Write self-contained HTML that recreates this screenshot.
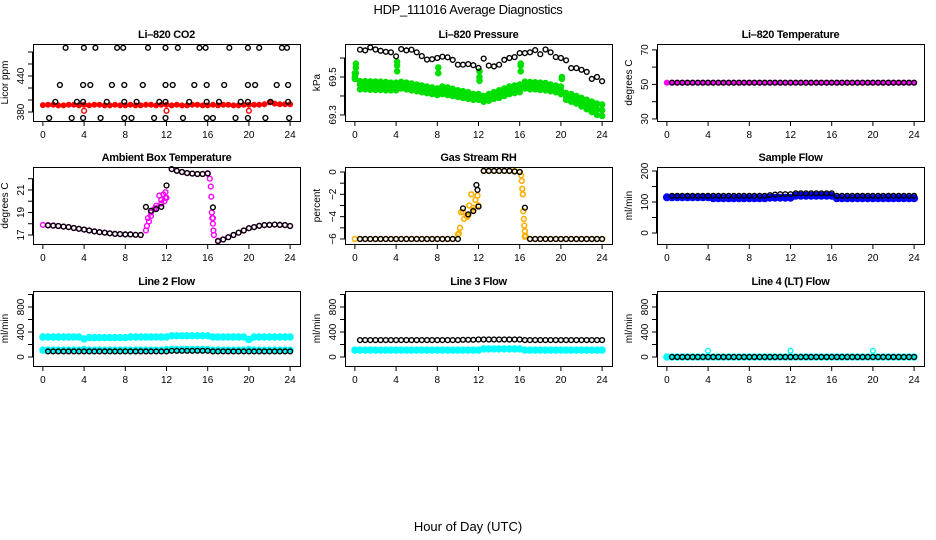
<!DOCTYPE html>
<html><head><meta charset="utf-8"><title>HDP_111016 Average Diagnostics</title>
<style>
html,body{margin:0;padding:0;background:#fff;}
svg{display:block;font-family:"Liberation Sans",sans-serif;}
.pt{font-size:11px;font-weight:bold;text-anchor:middle;letter-spacing:-0.3px;}
.tk{font-size:10px;}
</style></head><body>
<svg id="chart" width="936" height="540" viewBox="0 0 936 540" xmlns="http://www.w3.org/2000/svg">
<text x="468" y="14" text-anchor="middle" font-size="13" letter-spacing="-0.3">HDP_111016  Average Diagnostics</text>
<text x="468" y="531" text-anchor="middle" font-size="13">Hour of Day (UTC)</text>
</svg>
<script>
// ---- shared categories ----
const hoursA = [0,0.5,1,1.5,2,2.5,3,3.5,4,4.5,5,5.5,6,6.5,7,7.5,8,8.5,9,9.5,10,10.5,11,11.5,12,12.5,13,13.5,14,14.5,15,15.5,16,16.5,17,17.5,18,18.5,19,19.5,20,20.5,21,21.5,22,22.5,23,23.5,24];
const hoursB = [0.5,1,1.5,2,2.5,3,3.5,4,4.5,5,5.5,6,6.5,7,7.5,8,8.5,9,9.5,10,10.5,11,11.5,12,12.5,13,13.5,14,14.5,15,15.5,16,16.5,17,17.5,18,18.5,19,19.5,20,20.5,21,21.5,22,22.5,23,23.5,24];
const xTicks = [0,4,8,12,16,20,24];

// ---- CO2 ----
const co2Red = [391.5,
 392,392,391,391,392,392,391,392,
 391,392,392,391,391,392,391,391,
 392,391,391,392,392,391,392,392,
 391,392,391,391,392,392,391,391,
 392,391,392,392,391,391,392,392,
 392,392,393,396,394,393,393,393];
const co2RedOutHours = [4,12,20];
const co2RedOutVals = [382,382,382];
const co2BlackHours = [2.2,3.98,5.1,7.2,7.8,10.2,11.9,13.1,15.2,15.8,18.1,19.9,21.0,23.2,23.7,
 1.65,3.9,4.6,6.7,7.9,9.7,11.9,12.6,14.7,15.9,17.6,19.9,20.6,22.7,23.8,
 1.2,3.3,3.9,6.2,7.9,9.1,11.3,11.9,14.2,15.9,17.1,19.2,19.9,22.1,23.8,
 0.6,2.8,3.9,5.6,7.9,8.6,10.8,11.9,13.6,15.9,16.5,18.7,19.9,21.6,23.9];
const co2BlackVals = [487,487,487,487,487,487,487,487,487,487,487,487,487,487,487,
 425,425,425,425,425,425,425,425,425,425,425,425,425,425,425,
 397,397,397,397,397,397,397,397,397,397,397,397,397,397,397,
 370,370,370,370,370,370,370,370,370,370,370,370,370,370,370];

// ---- Pressure ----
const presBlack = [69.644,69.64,69.656,69.645,69.638,69.633,69.63,69.609,
 69.647,69.64,69.644,69.63,69.61,69.592,69.594,69.6,
 69.607,69.604,69.59,69.565,69.565,69.568,69.562,69.548,
 69.597,69.56,69.556,69.565,69.59,69.6,69.605,69.626,
 69.626,69.63,69.642,69.62,69.645,69.63,69.605,69.6,
 69.588,69.547,69.547,69.538,69.527,69.49,69.5,69.478];
const presGreenUpper = [69.52,
 69.478,69.478,69.477,69.476,69.475,69.473,69.47,69.47,
 69.474,69.47,69.465,69.46,69.455,69.45,69.445,69.44,
 69.45,69.445,69.438,69.43,69.425,69.42,69.41,69.41,
 69.40,69.41,69.42,69.43,69.44,69.45,69.455,69.46,
 69.475,69.473,69.472,69.47,69.468,69.46,69.455,69.45,
 69.415,69.41,69.40,69.39,69.38,69.37,69.36,69.355];
const presGreenMid = [69.49,
 69.46,69.458,69.456,69.455,69.455,69.452,69.45,69.45,
 69.456,69.452,69.447,69.442,69.437,69.432,69.427,69.422,
 69.43,69.425,69.42,69.412,69.407,69.402,69.395,69.395,
 69.385,69.392,69.402,69.41,69.42,69.43,69.435,69.44,
 69.457,69.454,69.453,69.451,69.449,69.443,69.437,69.43,
 69.398,69.39,69.38,69.368,69.355,69.343,69.33,69.325];
const presGreenLower = [69.5,
 69.435,69.435,69.433,69.432,69.432,69.43,69.43,69.43,
 69.44,69.435,69.43,69.425,69.42,69.415,69.41,69.405,
 69.41,69.405,69.40,69.395,69.39,69.385,69.38,69.38,
 69.37,69.375,69.385,69.39,69.40,69.41,69.415,69.42,
 69.44,69.435,69.435,69.432,69.43,69.425,69.42,69.41,
 69.38,69.37,69.36,69.345,69.33,69.315,69.30,69.295];
const presSpikeHours = [0.1,0.1,0.1,4.1,4.1,4.1,8.1,8.1,12.1,12.1,12.1,16.1,16.1,16.1,20.1,20.1];
const presSpikeVals = [69.57,69.55,69.52,69.58,69.56,69.53,69.55,69.52,69.53,69.5,69.48,69.57,69.56,69.53,69.50,69.49];

// ---- Li-820 Temperature ----
const tempMagenta = [51,
 51,51,51,51,51,51,51,51, 51,51,51,51,51,51,51,51, 51,51,51,51,51,51,51,51,
 51,51,51,51,51,51,51,51, 51,51,51,51,51,51,51,51, 51,51,51,51,51,51,51,51];
const tempBlack = [51,51,51,51,51,51,51,51, 51,51,51,51,51,51,51,51, 51,51,51,51,51,51,51,51,
 51,51,51,51,51,51,51,51, 51,51,51,51,51,51,51,51, 51,51,51,51,51,51,51,51];

// ---- Ambient Box Temperature ----
const ambMagenta = [17.9,
 17.88,17.85,17.8,17.75,17.7,17.62,17.55,17.48,
 17.4,17.33,17.26,17.2,17.15,17.1,17.08,17.05,
 17.05,17.02,17.0,17.4,19.0,19.4,19.8,20.3,
 22.85,22.7,22.6,22.5,22.45,22.42,22.42,22.5,
 18.5,16.5,16.6,16.8,17.0,17.2,17.4,17.6,
 17.7,17.82,17.88,17.9,17.92,17.9,17.88,17.8];
const ambMagentaExtraHours = [10.1,10.2,10.3,10.5,10.8,11.0,11.3,11.5,11.7,11.8,11.9,11.9,16.2,16.3,16.35,16.4,16.45,16.5,16.55,16.6];
const ambMagentaExtraVals = [17.8,18.5,18.2,18.7,19.3,19.6,20.5,20.1,20.6,20.0,20.3,20.8,22.0,21.3,20.4,19.0,18.5,18.0,17.4,17.0];
const ambBlack = [17.85,17.83,17.8,17.75,17.7,17.62,17.55,17.48,
 17.4,17.32,17.25,17.2,17.15,17.1,17.08,17.05,
 17.05,17.02,17.0,19.5,19.15,19.3,19.5,21.4,
 22.85,22.7,22.6,22.5,22.45,22.42,22.42,22.45,
 19.45,16.45,16.6,16.8,17.0,17.2,17.4,17.6,
 17.7,17.82,17.88,17.9,17.92,17.9,17.88,17.8];

// ---- Gas Stream RH ----
const rhOrange = [-6,
 -6,-6,-6,-6,-6,-6,-6,-6, -6,-6,-6,-6,-6,-6,-6,-6,
 -6,-6,-6,-5.6,-3.6,-3.9,-3.4,-3.0,
 0.1,0.1,0.1,0.1,0.1,0.1,0.1,0,
 -5.8,-6,-6,-6,-6,-6,-6,-6, -6,-6,-6,-6,-6,-6,-6,-6];
const rhOrangeExtraHours = [10.1,10.2,10.3,10.6,10.9,11.1,11.3,11.5,11.7,11.9,16.15,16.2,16.25,16.3,16.35,16.4,16.45,16.5,16.55];
const rhOrangeExtraVals = [-5.5,-5.0,-3.6,-4.2,-4.0,-3.0,-2.0,-3.2,-2.5,-2.1,-0.3,-0.8,-1.5,-2.0,-3.5,-4.2,-4.8,-5.3,-5.7];
const rhBlack = [-6,-6,-6,-6,-6,-6,-6,-6, -6,-6,-6,-6,-6,-6,-6,-6,
 -6,-6,-6,-6,-3.25,-3.8,-3.5,-3.1,
 0.1,0.1,0.1,0.1,0.1,0.1,0.05,0,
 -3.2,-6,-6,-6,-6,-6,-6,-6, -6,-6,-6,-6,-6,-6,-6,-6];
const rhBlackExtraHours = [11.8,11.9];
const rhBlackExtraVals = [-1.16,-1.6];

// ---- Sample Flow ----
const sampleBlue = [115,
 115,115,115,115,115,115,115,115, 112,112,112,112,112,112,112,112,
 112,112,112,114,114,114,114,114, 120,120,120,120,120,120,120,120,
 112,112,112,112,112,112,112,112, 112,112,112,112,112,112,112,112];
const sampleBlack = [120,120,120,120,120,120,120,120, 120,120,120,120,120,120,120,120,
 120,120,120,122,124,125,125,125, 128,128,128,128,128,128,128,128,
 120,120,120,120,120,120,120,120, 120,120,120,120,120,120,120,120];

// ---- Line 2 Flow ----
const line2CyanHigh = [320,
 320,320,320,320,320,320,320,290, 310,310,310,310,310,310,310,310,
 320,320,320,320,320,320,320,320, 340,340,340,340,340,340,340,340,
 320,320,320,320,320,320,320,280, 320,320,320,320,320,320,320,320];
const line2CyanLow = [110,
 110,110,110,110,110,110,110,120, 110,110,110,110,110,110,110,110,
 110,110,110,110,110,110,110,120, 120,120,120,120,120,120,120,120,
 110,110,110,110,110,110,110,120, 110,110,110,110,110,110,110,110];
const line2Black = [90,90,90,90,90,90,90,90, 90,90,90,90,90,90,90,90,
 90,90,90,90,90,90,90,90, 100,100,100,100,100,100,100,100,
 90,90,90,90,90,90,90,90, 90,90,90,90,90,90,90,90];

// ---- Line 3 Flow ----
const line3Cyan = [110,
 110,110,110,110,110,110,110,110, 110,110,110,110,110,110,110,110,
 110,110,110,110,110,110,110,110, 130,130,130,130,130,130,130,130,
 110,110,110,110,110,110,110,110, 110,110,110,110,110,110,110,110];
const line3Black = [270,270,270,270,270,270,270,270, 270,270,270,270,270,270,270,270,
 270,270,270,270,275,275,275,280, 280,280,280,280,280,280,280,280,
 270,270,270,270,270,270,270,270, 270,270,270,270,270,270,270,270];

// ---- Line 4 Flow ----
const line4Cyan = [0,
 0,0,0,0,0,0,0,0, 0,0,0,0,0,0,0,0, 0,0,0,0,0,0,0,0,
 0,0,0,0,0,0,0,0, 0,0,0,0,0,0,0,0, 0,0,0,0,0,0,0,0];
const line4CyanOutHours = [4,12,20];
const line4CyanOutVals = [100,100,100];
const line4Black = [0,0,0,0,0,0,0,0, 0,0,0,0,0,0,0,0, 0,0,0,0,0,0,0,0,
 0,0,0,0,0,0,0,0, 0,0,0,0,0,0,0,0, 0,0,0,0,0,0,0,0];

const NS = "http://www.w3.org/2000/svg";
const svg = document.getElementById("chart");
function mk(tag, attrs, parent){
  const e = document.createElementNS(NS, tag);
  for (const k in attrs) e.setAttribute(k, attrs[k]);
  (parent||svg).appendChild(e);
  return e;
}
const colX = [33,345,657], rowY = [44,167,291], W = 267, H = 77;
const XMIN = -0.96, XMAX = 24.96;

const STY = {
  black:{fill:"none",stroke:"#000","stroke-width":1.4,r:2.4},
  red:{fill:"#ff0000",stroke:"#ff0000","stroke-width":1,r:2.5},
  redOpen:{fill:"none",stroke:"#ff0000","stroke-width":1.4,r:2.4},
  green:{fill:"#00e000",stroke:"#00e000","stroke-width":1,r:2.8},
  magentaFill:{fill:"#ff00ff",stroke:"#ff00ff","stroke-width":1,r:2.6},
  magenta:{fill:"none",stroke:"#ff00ff","stroke-width":1.4,r:2.4},
  orange:{fill:"none",stroke:"#ffb000","stroke-width":1.6,r:2.4},
  blue:{fill:"#0000ff",stroke:"#0000ff","stroke-width":1,r:3.5},
  cyan:{fill:"#00ffff",stroke:"#00ffff","stroke-width":1,r:3.2},
  cyanOpen:{fill:"none",stroke:"#00ffff","stroke-width":1.4,r:2.4}
};

const panels = [
 {name:"co2",title:"Li–820 CO2",ylab:"Licor ppm",c:0,r:0,ymin:365,ymax:493.3,ticks:[380,400,420,440,460,480],labels:[380,440],
  series:[[hoursA,co2Red,"red"],[co2RedOutHours,co2RedOutVals,"redOpen"],[co2BlackHours,co2BlackVals,"black"]]},
 {name:"pressure",title:"Li–820 Pressure",ylab:"kPa",c:1,r:0,ymin:69.268,ymax:69.674,ticks:[69.3,69.4,69.5,69.6],labels:[69.3,69.5],fmt:1,
  series:[[hoursA,presGreenUpper,"green"],[hoursA,presGreenMid,"green"],[hoursA,presGreenLower,"green"],[presSpikeHours,presSpikeVals,"green"],[hoursB,presBlack,"black"]]},
 {name:"li820-temperature",title:"Li–820 Temperature",ylab:"degrees C",c:2,r:0,ymin:28.8,ymax:73.4,ticks:[30,40,50,60,70],labels:[30,50,70],
  series:[[hoursA,tempMagenta,"magentaFill"],[hoursB,tempBlack,"black"]]},
 {name:"ambient-temperature",title:"Ambient Box Temperature",ylab:"degrees C",c:0,r:1,ymin:16.2,ymax:23.04,ticks:[17,18,19,20,21,22],labels:[17,19,21],
  series:[[hoursA,ambMagenta,"magenta"],[ambMagentaExtraHours,ambMagentaExtraVals,"magenta"],[hoursB,ambBlack,"black"]]},
 {name:"gas-rh",title:"Gas Stream RH",ylab:"percent",c:1,r:1,ymin:-6.45,ymax:0.45,ticks:[-6,-5,-4,-3,-2,-1,0],labels:[-6,-4,-2,0],
  series:[[hoursA,rhOrange,"orange"],[rhOrangeExtraHours,rhOrangeExtraVals,"orange"],[hoursB,rhBlack,"black"],[rhBlackExtraHours,rhBlackExtraVals,"black"]]},
 {name:"sample-flow",title:"Sample Flow",ylab:"ml/min",c:2,r:1,ymin:-35.5,ymax:212.9,ticks:[0,50,100,150,200],labels:[0,100,200],
  series:[[hoursA,sampleBlue,"blue"],[hoursB,sampleBlack,"black"]]},
 {name:"line2-flow",title:"Line 2 Flow",ylab:"ml/min",c:0,r:2,ymin:-144,ymax:1056,ticks:[0,200,400,600,800,1000],labels:[0,400,800],h:75,
  series:[[hoursA,line2CyanHigh,"cyan"],[hoursA,line2CyanLow,"cyan"],[hoursB,line2Black,"black"]]},
 {name:"line3-flow",title:"Line 3 Flow",ylab:"ml/min",c:1,r:2,ymin:-144,ymax:1056,ticks:[0,200,400,600,800,1000],labels:[0,400,800],h:75,
  series:[[hoursA,line3Cyan,"cyan"],[hoursB,line3Black,"black"]]},
 {name:"line4-flow",title:"Line 4 (LT) Flow",ylab:"ml/min",c:2,r:2,ymin:-144,ymax:1056,ticks:[0,200,400,600,800,1000],labels:[0,400,800],h:75,
  series:[[hoursA,line4Cyan,"cyan"],[line4CyanOutHours,line4CyanOutVals,"cyanOpen"],[hoursB,line4Black,"black"]]}
];

panels.forEach(p => {
  const x0 = colX[p.c], y0 = rowY[p.r], h = p.h || H;
  const g = mk("g", {});
  
  
  const xs = t => x0 + (t - XMIN) / (XMAX - XMIN) * W;
  const ys = v => y0 + h - (v - p.ymin) / (p.ymax - p.ymin) * h;
  const t = mk("text", {x: x0 + W/2, y: y0 - 6, class: "pt"}, g);
  t.textContent = p.title;
  
  
  const xa = mk("g", {}, g);
  
  
  mk("line", {x1: xs(0), x2: xs(24), y1: y0+h+0.5, y2: y0+h+0.5, stroke:"#000"}, xa);
  xTicks.forEach(v => {
    mk("line", {x1: xs(v), x2: xs(v), y1: y0+h, y2: y0+h+5, stroke:"#000"}, xa);
    const l = mk("text", {x: xs(v), y: y0+h+17, "text-anchor":"middle", class:"tk"}, xa);
    l.textContent = v;
  });
  const ya = mk("g", {}, g);
  
  
  const tmin = p.ticks[0], tmax = p.ticks[p.ticks.length-1];
  mk("line", {x1: x0-0.5, x2: x0-0.5, y1: ys(tmin), y2: ys(tmax), stroke:"#000"}, ya);
  p.ticks.forEach(v => mk("line", {x1: x0-5, x2: x0, y1: ys(v), y2: ys(v), stroke:"#000"}, ya));
  p.labels.forEach(v => {
    const lx = x0 - 9, ly = ys(v);
    const l = mk("text", {x: lx, y: ly, "text-anchor":"middle", class:"tk", transform:`rotate(-90 ${lx} ${ly})`}, ya);
    l.textContent = p.fmt ? v.toFixed(1) : (v < 0 ? "\u2212" + Math.abs(v) : String(v));
  });
  const yl = mk("text", {x: x0-25, y: y0+h/2, "text-anchor":"middle", "font-size":"10", transform:`rotate(-90 ${x0-25} ${y0+h/2})`}, g);
  yl.textContent = p.ylab;
  
  
  p.series.forEach((s, si) => {
    const sg = mk("g", {}, g);
    
    
    const st = STY[s[2]];
    s[0].forEach((hr, i) => {
      const c = mk("circle", {cx: xs(hr).toFixed(1), cy: ys(s[1][i]).toFixed(1), r: st.r, fill: st.fill, stroke: st.stroke, "stroke-width": st["stroke-width"]}, sg);
      
      
    });
  });
  const b = mk("rect", {x: x0+0.5, y: y0+0.5, width: W, height: h, fill:"none", stroke:"#000", "stroke-width":1}, g);
  
  
});
</script>
</body></html>
